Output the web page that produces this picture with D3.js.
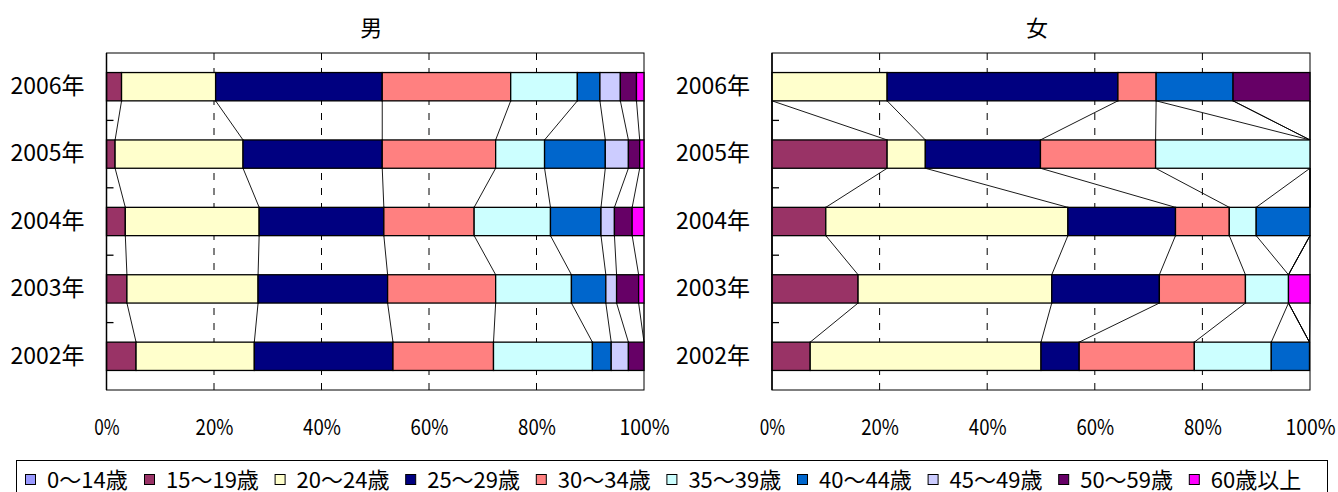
<!DOCTYPE html>
<html><head><meta charset="utf-8">
<script src="https://cdn.jsdelivr.net/npm/d3@7"></script>
<style>
html,body{margin:0;padding:0;background:#fff;}
text{font-family:"Noto Sans CJK JP","Noto Sans",sans-serif;fill:#000;}
</style></head>
<body><svg id="c" width="1338" height="492"></svg>
<script>
// ---- data ----
const years = ["2006年","2005年","2004年","2003年","2002年"];
const seriesNames = ["0～14歳","15～19歳","20～24歳","25～29歳","30～34歳","35～39歳","40～44歳","45～49歳","50～59歳","60歳以上"];
const seriesColors = ["#9999FF","#993366","#FFFFCC","#000080","#FF8080","#CCFFFF","#0066CC","#CCCCFF","#660066","#FF00FF"];
const tickLabels = ["0%","20%","40%","60%","80%","100%"];
const tickValues = [0,20,40,60,80,100];
const panelTitles = ["男","女"];
// male shares (%) per year, in series order
const male2006 = [0, 2.8, 17.5, 31.0, 23.9, 12.4, 4.2, 3.8, 3.0, 1.4];
const male2005 = [0, 1.6, 23.8, 25.9, 21.1, 9.1, 11.3, 4.3, 2.1, 0.8];
const male2004 = [0, 3.5, 24.9, 23.2, 16.8, 14.2, 9.4, 2.5, 3.3, 2.2];
const male2003 = [0, 3.8, 24.4, 24.1, 20.1, 14.1, 6.4, 2.0, 4.1, 1.0];
const male2002 = [0, 5.5, 22.0, 25.8, 18.7, 18.4, 3.5, 3.2, 2.9, 0];
// female shares (%) per year
const female2006 = [0, 0, 21.4, 42.9, 7.1, 0, 14.3, 0, 14.3, 0];
const female2005 = [0, 21.4, 7.1, 21.4, 21.4, 28.7, 0, 0, 0, 0];
const female2004 = [0, 10, 45, 20, 10, 5, 10, 0, 0, 0];
const female2003 = [0, 16, 36, 20, 16, 8, 0, 0, 0, 4];
const female2002 = [0, 7.1, 42.9, 7.1, 21.4, 14.3, 7.1, 0, 0, 0];

const panels = [
  {title: panelTitles[0], rows: [male2006, male2005, male2004, male2003, male2002], left: 106.5, right: 644},
  {title: panelTitles[1], rows: [female2006, female2005, female2004, female2003, female2002], left: 772, right: 1310}
];

const svg = d3.select("#c");
const plotTop = 53, plotBottom = 390;

panels.forEach(p => {
  const x = d3.scaleLinear().domain([0,100]).range([p.left, p.right]);
  const y = d3.scaleBand().domain(years).range([plotTop, plotBottom]).paddingInner(0.58).paddingOuter(0.29);
  const g = svg.append("g");

  g.append("text").attr("x", (p.left+p.right)/2 - 4).attr("y", 36)
    .attr("text-anchor","middle").style("font-size","22px").text(p.title);

  g.append("rect").attr("x", p.left).attr("y", plotTop).attr("width", p.right-p.left).attr("height", plotBottom-plotTop)
    .attr("fill","none").attr("stroke","#000").attr("stroke-width",1);

  g.selectAll("line.grid").data(tickValues.filter(v => v>0 && v<100)).join("line")
    .attr("x1", d=>x(d)).attr("x2", d=>x(d)).attr("y1", plotTop).attr("y2", plotBottom)
    .attr("stroke","#000").attr("stroke-width",1).attr("stroke-dasharray","7,8");

  const stacks = p.rows.map(r => { let c = 0; return r.map(v => { const s = c; c += v; return [s, c]; }); });

  for (let i = 0; i < years.length-1; i++) {
    for (let s = 0; s < seriesNames.length; s++) {
      g.append("line")
        .attr("x1", x(stacks[i][s][1])).attr("y1", y(years[i]) + y.bandwidth())
        .attr("x2", x(stacks[i+1][s][1])).attr("y2", y(years[i+1]))
        .attr("stroke","#000").attr("stroke-width",0.9);
    }
  }

  years.forEach((yr, i) => {
    stacks[i].forEach((seg, s) => {
      if (seg[1] - seg[0] <= 0) return;
      g.append("rect").attr("x", x(seg[0])).attr("y", y(yr))
        .attr("width", x(seg[1]) - x(seg[0])).attr("height", y.bandwidth())
        .attr("fill", seriesColors[s]).attr("stroke","#000").attr("stroke-width",1.3);
    });
  });

  g.append("line").attr("x1", p.left).attr("x2", p.left).attr("y1", plotTop).attr("y2", plotBottom)
    .attr("stroke","#000").attr("stroke-width",1.5);
  const step = y.step();
  g.selectAll("line.ytick").data(years.slice(1)).join("line")
    .attr("x1", p.left).attr("x2", p.left+7)
    .attr("y1", d => y(d) - y.paddingInner()*step/2)
    .attr("y2", d => y(d) - y.paddingInner()*step/2)
    .attr("stroke","#000").attr("stroke-width",1.3);

  const yAxis = d3.axisLeft(y).tickSize(0).tickPadding(22);
  const ya = g.append("g").attr("transform", `translate(${p.left},0)`).call(yAxis);
  ya.select(".domain").remove();
  ya.selectAll("text").style("font-size","23px").style("font-family",'"Noto Sans CJK JP",sans-serif').attr("fill","#000");

  const xAxis = d3.axisBottom(x).tickValues(tickValues).tickFormat((d,i) => tickLabels[i]).tickSize(0).tickPadding(0);
  const xa = g.append("g").attr("transform", `translate(0,${plotBottom})`).call(xAxis);
  xa.select(".domain").remove();
  xa.selectAll("text").attr("y", 45).attr("dy", null)
    .attr("textLength", function(){ const t = d3.select(this).text(); return (t.length-1)*12.4 + 13; })
    .attr("lengthAdjust", "spacingAndGlyphs")
    .style("font-size","22px").style("font-family",'"Noto Sans CJK JP",sans-serif').attr("fill","#000");
});

const lg = svg.append("g");
lg.append("rect").attr("x", 16.5).attr("y", 460.5).attr("width", 1311).attr("height", 40)
  .attr("fill","#fff").attr("stroke","#000").attr("stroke-width",1);
seriesNames.forEach((name, i) => {
  const sx = i === 0 ? 25 : 144 + 130.6*(i-1);
  lg.append("rect").attr("x", sx + 0.5).attr("y", 474.5).attr("width", 10).attr("height", 10)
    .attr("fill", seriesColors[i]).attr("stroke","#000").attr("stroke-width",1);
  lg.append("text").attr("x", sx + 22).attr("y", 488).style("font-size","22px").text(name);
});
</script></body></html>
